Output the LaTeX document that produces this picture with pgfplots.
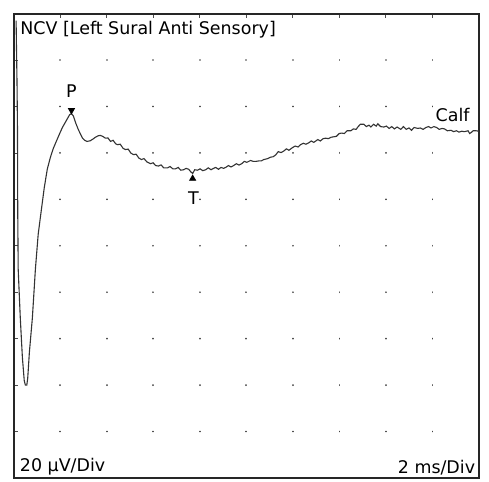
\documentclass[border=0pt]{standalone}
\usepackage{fontspec}
\setmainfont{DejaVu Sans}
\usepackage{pgfplots}
\pgfplotsset{compat=1.18}

% sural sensory response, 2 ms/div, 20 uV/div
\pgfplotstableread{
t    u
0.10 97
0.14 70
0.16 50
0.17 16
0.19 -10
0.28 -31
0.37 -48
0.45 -58
0.50 -60
0.56 -60
0.60 -57
0.67 -46
0.80 -31
0.93 -10
1.05 5
1.14 12
1.31 25
1.44 33
1.57 38
1.70 42
1.87 46
2.00 49
2.09 51
2.26 54
2.40 56.5
2.48 57
2.56 56
2.66 53
2.78 50
2.95 46.5
3.05 45.5
3.15 45
3.29 45.3
3.40 46
3.51 46.8
3.62 47.4
3.72 47.6
3.82 47.2
3.94 46.4
4.05 46.5
4.16 45
4.27 45.5
4.38 44
4.46 43.6
4.58 43.8
4.70 42
4.80 41.5
4.92 41.7
5.03 40
5.15 39.3
5.26 39.5
5.38 37.8
5.49 37.2
5.60 37.6
5.72 36.2
5.88 35.4
5.99 35.8
6.10 34.6
6.22 34.4
6.33 34.9
6.45 33.6
6.61 33.6
6.72 34.2
6.84 33.2
6.95 33.2
7.07 33.8
7.18 32.6
7.30 32.8
7.41 33.4
7.52 33
7.62 31.8
7.69 31.2
7.78 32.8
7.90 32.6
8.01 33.2
8.13 32.4
8.25 32.8
8.36 33.6
8.48 32.8
8.59 33.4
8.68 33.8
8.80 33
8.91 33.8
9.02 33.4
9.11 33.8
9.23 34.6
9.34 34
9.45 34.6
9.57 35.4
9.68 34.8
9.80 35.4
9.91 36.4
10.02 36
10.18 36.8
10.30 36.4
10.41 36.4
10.53 36.6
10.64 36.6
10.75 37.2
10.92 37.6
11.03 38.2
11.15 38.4
11.26 39.2
11.37 40.6
11.49 40.2
11.60 40.8
11.72 41.8
11.83 41.2
11.99 42.4
12.10 43
12.22 42.6
12.33 43.6
12.45 44.2
12.56 43.8
12.68 44.4
12.79 45.2
12.90 44.6
13.07 45.8
13.18 45.2
13.30 46.2
13.41 46.4
13.52 46.2
13.64 46.8
13.76 47
13.87 47.2
13.99 48.4
14.10 48.6
14.21 48.4
14.33 49.6
14.49 49.6
14.60 50.4
14.72 50.2
14.79 51.2
14.90 52.4
15.05 52.4
15.16 51.4
15.27 52
15.35 51.2
15.47 52.4
15.58 51.6
15.65 52.6
15.77 51.4
15.91 51.2
16.02 51.6
16.14 50.6
16.25 51.4
16.36 50.4
16.48 51.2
16.64 50.2
16.75 51.4
16.87 50.2
16.99 50.8
17.10 49.8
17.21 51
17.37 50.6
17.48 50.8
17.60 50.2
17.72 51
17.83 51.4
17.94 50.8
18.06 51.4
18.18 51
18.29 50.2
18.41 50.6
18.52 50.4
18.64 49.6
18.80 49.8
18.91 49.2
19.03 49.6
19.14 49
19.26 49.4
19.37 49.2
19.53 49.6
19.60 48.4
19.66 48.8
19.75 49.6
19.87 49.6
20.00 49.4
}\trace

\begin{document}
\begin{tikzpicture}
\begin{axis}[
    width=232pt, height=231.5pt, scale only axis,
    xmin=0, xmax=20, ymin=-100, ymax=100,
    axis line style={line width=1.2pt, black!85},
    xtick={2,4,...,18}, ytick={-80,-60,...,80},
    xticklabels={}, yticklabels={},
    tick align=inside, major tick length=2pt,
    xtick pos=right, ytick pos=left,
    tick style={black!70, line width=0.5pt},
    xmajorgrids,
    major grid style={draw=black!75, line width=0.9pt, line cap=round,
                      dash pattern=on 0.01pt off 23.15pt},
    font=\fontsize{8.7}{10}\selectfont,
    clip=false,
]
\addplot[black!80, line width=0.55pt] table[x=t, y=u] {\trace};
\addplot[only marks, mark=triangle*, mark size=1.7pt, black,
         mark options={rotate=180}] coordinates {(2.48,58.4)};
\addplot[only marks, mark=triangle*, mark size=1.7pt, black] coordinates {(7.69,29.0)};

\node[anchor=west] at (axis cs:-0.02,93) {NCV [Left Sural Anti Sensory]};
\node at (axis cs:2.48,66.5) {P};
\node at (axis cs:7.73,20.5) {T};
\node[anchor=east] at (axis cs:19.9,56.5) {Calf};
\node[anchor=south west, inner sep=0pt] at (axis cs:0.25,-99) {20 µV/Div};
\node[anchor=south east, inner sep=0pt] at (axis cs:19.85,-99) {2 ms/Div};
\end{axis}
\path ([xshift=-6.2pt,yshift=-2pt]current axis.south west)
      rectangle ([xshift=5pt,yshift=2.5pt]current axis.north east);
\end{tikzpicture}
\end{document}
